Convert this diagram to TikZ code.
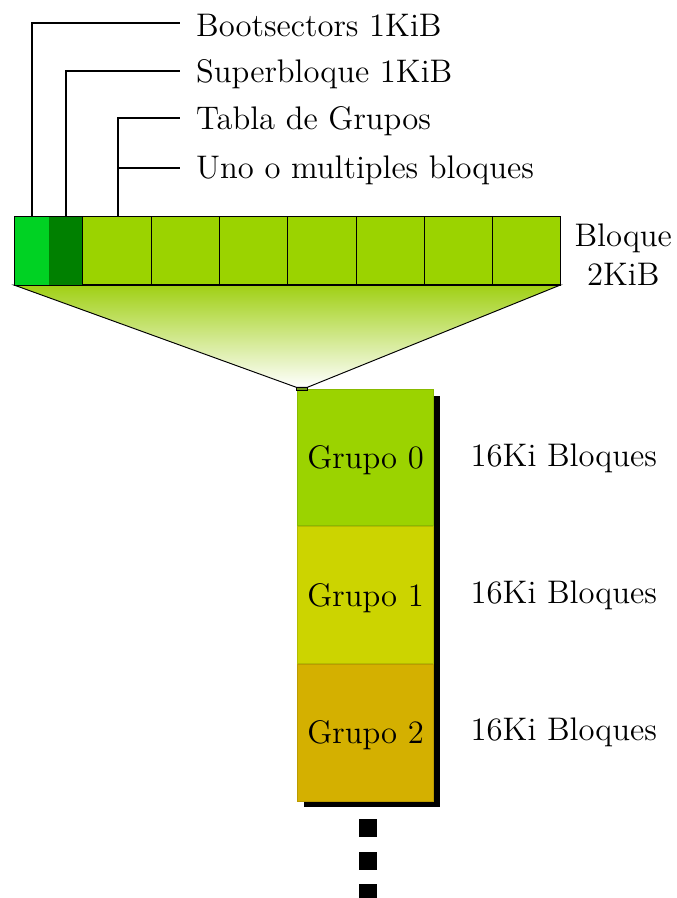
\documentclass[tikz,border=0pt]{standalone}
\definecolor{lightgreen}{RGB}{155,211,0}
\definecolor{brightgreen}{RGB}{0,210,35}
\definecolor{darkgreen}{RGB}{0,128,0}
\definecolor{grupoA}{RGB}{155,211,0}
\definecolor{grupoB}{RGB}{204,212,0}
\definecolor{grupoC}{RGB}{212,176,0}
\definecolor{fangreen}{RGB}{160,208,20}
\definecolor{stubgreen}{RGB}{110,150,20}
\begin{document}
\begin{tikzpicture}[
  every node/.style={font=\fontsize{13.6pt}{16.3pt}\selectfont},
  cell/.style={draw=black, line width=0.4pt, minimum width=1cm, minimum height=1cm, inner sep=0, anchor=south west},
  halfcell/.style={minimum width=0.5cm, minimum height=1cm, inner sep=0, anchor=south west},
  leader/.style={line width=0.8pt},
  label/.style={anchor=west, inner sep=0.23cm, yshift=-0.04cm},
  grupo/.style={minimum width=2cm, minimum height=2cm, inner sep=0, anchor=north west, line width=0.4pt},
  grupotext/.style={yshift=-0.04cm},
  dotsq/.style={fill=black, minimum size=0.26cm, inner sep=0}
]
\useasboundingbox (-0.205,-8.975) rectangle (9.693,4.173);

% fan-out from the block row to the group column
\shade[top color=fangreen, bottom color=white, draw=black, line width=0.4pt]
  (0,0) -- (8,0) -- (4.29,-1.5) -- (4.14,-1.5) -- cycle;

% drop shadow behind the group column
\fill[black] (4.24,-1.62) rectangle (6.24,-7.64);

% group column
\node[grupo, fill=grupoA, draw=grupoA!88!black] (g0) at (4.14,-1.52) {};
\node[grupo, fill=grupoB, draw=grupoB!88!black] (g1) at (g0.south west) {};
\node[grupo, fill=grupoC, draw=grupoC!88!black] (g2) at (g1.south west) {};
\node[grupotext] (n0) at (g0.center) {Grupo 0};
\node[grupotext] (n1) at (g1.center) {Grupo 1};
\node[grupotext] (n2) at (g2.center) {Grupo 2};
\filldraw[fill=stubgreen, draw=black, line width=0.3pt] (4.14,-1.545) rectangle (4.29,-1.5);

\node (c0) at (8.05,-2.54) {16Ki Bloques};
\node (c1) at (8.05,-4.54) {16Ki Bloques};
\node (c2) at (8.05,-6.55) {16Ki Bloques};

% continuation marks
\node[dotsq] (d0) at (5.18,-7.95) {};
\node[dotsq] (d1) at (5.18,-8.43) {};
\node[dotsq] (d2) at (5.18,-8.90) {};

% block row
\node[halfcell, fill=brightgreen] (b0) at (0,0) {};
\node[halfcell, fill=darkgreen] (b1) at (0.5,0) {};
\foreach \i in {1,...,7} {
  \node[cell, fill=lightgreen] (k\i) at (\i,0) {};
}
\draw[line width=0.4pt] (0,0) rectangle (8,1);
\draw[line width=0.4pt] (1,0) -- (1,1);

\node[align=center] (bl) at (8.92,0.44) {Bloque\\2KiB};

% leaders to the descriptions
\coordinate (e0) at (2.43,3.836);
\coordinate (e1) at (2.43,3.133);
\coordinate (e2) at (2.43,2.445);
\coordinate (e3) at (2.43,1.713);
\draw[leader] (b0.north) |- (e0);
\draw[leader] (b1.north) |- (e1);
\draw[leader] (1.52,1) |- (e2);
\draw[leader] (1.52,1.713) -- (e3);

\node[label] (t0) at (e0) {Bootsectors 1KiB};
\node[label] (t1) at (e1) {Superbloque 1KiB};
\node[label] (t2) at (e2) {Tabla de Grupos};
\node[label] (t3) at (e3) {Uno o multiples bloques};
\end{tikzpicture}
\end{document}
